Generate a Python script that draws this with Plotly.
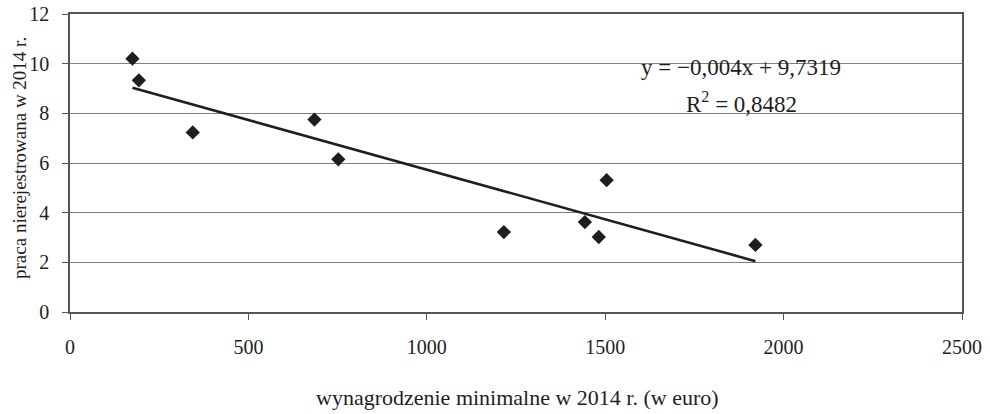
import plotly.graph_objects as go

# Data
min_wage_eur = [175, 193, 344, 685, 752, 1216, 1443, 1482, 1504, 1921]
undeclared_work = [10.2, 9.33, 7.23, 7.75, 6.15, 3.22, 3.62, 3.02, 5.31, 2.70]

trend_slope = -0.004
trend_intercept = 9.7319

x_ticks = [0, 500, 1000, 1500, 2000, 2500]
y_ticks = [0, 2, 4, 6, 8, 10, 12]

x_title = "wynagrodzenie minimalne w 2014 r. (w euro)"
y_title = "praca nierejestrowana w 2014 r."
eq_text = "y = \u22120,004x + 9,7319"
r2_text = "R<sup>2</sup> = 0,8482"

FONT = "Liberation Serif, Times New Roman, serif"
INK = "#1e1e1e"

W, H = 990, 414
L, R, T, B = 70, 990 - 962, 14, 414 - 312
pw, ph = W - L - R, H - T - B


def px_x(px):
    return (px - L) / pw


def px_y(py):
    return 1 - (py - T) / ph


trend_x = [min(min_wage_eur), max(min_wage_eur)]
trend_y = [trend_slope * x + trend_intercept for x in trend_x]

fig = go.Figure()
fig.add_trace(go.Scatter(
    x=trend_x, y=trend_y, mode="lines",
    line=dict(color=INK, width=2.6), showlegend=False, hoverinfo="skip"))
fig.add_trace(go.Scatter(
    x=min_wage_eur, y=undeclared_work, mode="markers",
    marker=dict(symbol="diamond", size=11, color=INK), showlegend=False))

fig.add_annotation(
    x=px_x(741), y=px_y(67), xref="paper", yref="paper", showarrow=False,
    text=eq_text, font=dict(family=FONT, size=23, color=INK),
    xanchor="center", yanchor="middle")
fig.add_annotation(
    x=px_x(741), y=px_y(102), xref="paper", yref="paper", showarrow=False,
    text=r2_text, font=dict(family=FONT, size=23, color=INK),
    xanchor="center", yanchor="middle")

# axis titles
fig.add_annotation(
    x=px_x(517), y=px_y(397), xref="paper", yref="paper", showarrow=False,
    text=x_title, font=dict(family=FONT, size=22, color=INK),
    xanchor="center", yanchor="middle")
fig.add_annotation(
    x=px_x(19), y=px_y(158), xref="paper", yref="paper", showarrow=False,
    text=y_title, font=dict(family=FONT, size=19, color=INK), textangle=-90,
    xanchor="center", yanchor="middle")

fig.update_layout(
    width=W, height=H,
    margin=dict(l=L, r=R, t=T, b=B, autoexpand=False),
    paper_bgcolor="white", plot_bgcolor="white",
    font=dict(family=FONT, size=20, color=INK),
    xaxis=dict(
        range=[0, 2500], tickvals=x_ticks, ticks="outside", ticklen=6,
        tickcolor="#555", showgrid=False, zeroline=False, automargin=False,
        showline=True, linecolor="#555", linewidth=1.5, mirror=True,
        tickfont=dict(family=FONT, size=20, color=INK), ticklabelstandoff=10,
        ticklabeloverflow="allow",
    ),
    yaxis=dict(
        range=[0, 12], tickvals=y_ticks, ticks="outside", ticklen=6,
        tickcolor="#555", showgrid=True, gridcolor="#808080", gridwidth=1,
        zeroline=False, showline=True, linecolor="#555", linewidth=1.5, mirror=True,
        automargin=False, ticklabeloverflow="allow",
        tickfont=dict(family=FONT, size=20, color=INK), ticklabelstandoff=9,
    ),
)

fig.write_html("out.html", config={"displayModeBar": False},
               post_script="document.body.style.margin='0px';")
